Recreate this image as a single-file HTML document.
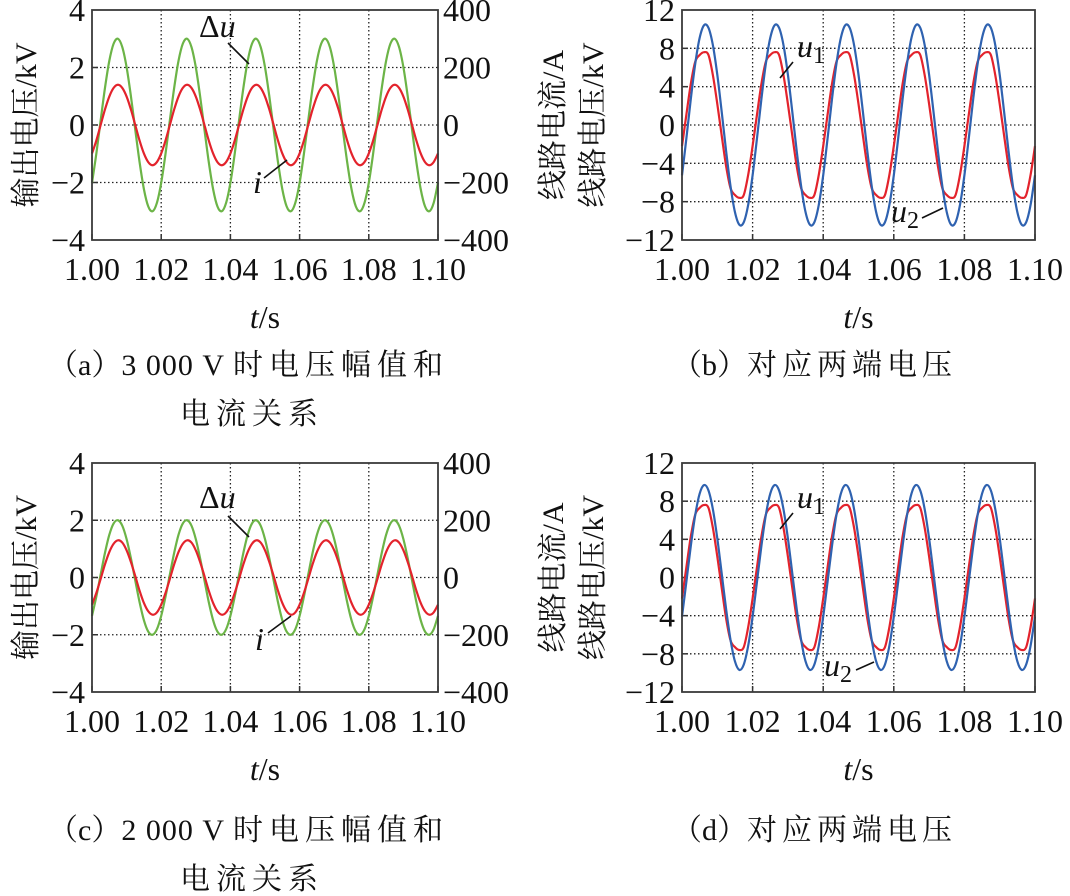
<!DOCTYPE html>
<html><head><meta charset="utf-8"><style>
html,body{margin:0;padding:0;background:#fff}
svg{display:block}
svg text{font-family:"Liberation Serif","Times New Roman","Noto Serif CJK SC",serif;fill:#111}
svg text.cjk{font-family:"Liberation Serif","Noto Serif CJK SC","Noto Sans CJK SC",serif}
</style></head><body>
<svg id="fig" width="1070" height="896" viewBox="0 0 1070 896" xmlns="http://www.w3.org/2000/svg"></svg>
<script>
const xTicks = ["1.00","1.02","1.04","1.06","1.08","1.10"];
const tStart = 1.00, tStep = 0.00125;
const aLeftTicks = [4,2,0,-2,-4];
const aRightTicks = [400,200,0,-200,-400];
const bTicks = [12,8,4,0,-4,-8,-12];

const aDeltaU = [-2.01,-1.0,0.16,1.29,2.23,2.83,3.0,2.71,2.01,1.0,-0.16,-1.29,-2.23,-2.83,-3.0,-2.71,
-2.01,-1.0,0.16,1.29,2.23,2.83,3.0,2.71,2.01,1.0,-0.16,-1.29,-2.23,-2.83,-3.0,-2.71,
-2.01,-1.0,0.16,1.29,2.23,2.83,3.0,2.71,2.01,1.0,-0.16,-1.29,-2.23,-2.83,-3.0,-2.71,
-2.01,-1.0,0.16,1.29,2.23,2.83,3.0,2.71,2.01,1.0,-0.16,-1.29,-2.23,-2.83,-3.0,-2.71,
-2.01,-1.0,0.16,1.29,2.23,2.83,3.0,2.71,2.01,1.0,-0.16,-1.29,-2.23,-2.83,-3.0,-2.71,-2.01];
const aCurrent = [-99,-54,0,54,99,129,140,129,99,54,0,-54,-99,-129,-140,-129,
-99,-54,0,54,99,129,140,129,99,54,0,-54,-99,-129,-140,-129,
-99,-54,0,54,99,129,140,129,99,54,0,-54,-99,-129,-140,-129,
-99,-54,0,54,99,129,140,129,99,54,0,-54,-99,-129,-140,-129,
-99,-54,0,54,99,129,140,129,99,54,0,-54,-99,-129,-140,-129,-99];
const bU1 = [-2.2,1.1,4.3,6.6,7.3,7.6,7.3,5.2,2.2,-1.1,-4.3,-6.6,-7.3,-7.6,-7.3,-5.2,
-2.2,1.1,4.3,6.6,7.3,7.6,7.3,5.2,2.2,-1.1,-4.3,-6.6,-7.3,-7.6,-7.3,-5.2,
-2.2,1.1,4.3,6.6,7.3,7.6,7.3,5.2,2.2,-1.1,-4.3,-6.6,-7.3,-7.6,-7.3,-5.2,
-2.2,1.1,4.3,6.6,7.3,7.6,7.3,5.2,2.2,-1.1,-4.3,-6.6,-7.3,-7.6,-7.3,-5.2,
-2.2,1.1,4.3,6.6,7.3,7.6,7.3,5.2,2.2,-1.1,-4.3,-6.6,-7.3,-7.6,-7.3,-5.2,-2.2];
const bU2 = [-5.25,-1.37,2.72,6.39,9.09,10.41,10.14,8.33,5.25,1.37,-2.72,-6.39,-9.09,-10.41,-10.14,-8.33,
-5.25,-1.37,2.72,6.39,9.09,10.41,10.14,8.33,5.25,1.37,-2.72,-6.39,-9.09,-10.41,-10.14,-8.33,
-5.25,-1.37,2.72,6.39,9.09,10.41,10.14,8.33,5.25,1.37,-2.72,-6.39,-9.09,-10.41,-10.14,-8.33,
-5.25,-1.37,2.72,6.39,9.09,10.41,10.14,8.33,5.25,1.37,-2.72,-6.39,-9.09,-10.41,-10.14,-8.33,
-5.25,-1.37,2.72,6.39,9.09,10.41,10.14,8.33,5.25,1.37,-2.72,-6.39,-9.09,-10.41,-10.14,-8.33,-5.25];
const cDeltaU = [-1.34,-0.67,0.10,0.86,1.49,1.89,2.0,1.81,1.34,0.67,-0.10,-0.86,-1.49,-1.89,-2.0,-1.81,
-1.34,-0.67,0.10,0.86,1.49,1.89,2.0,1.81,1.34,0.67,-0.10,-0.86,-1.49,-1.89,-2.0,-1.81,
-1.34,-0.67,0.10,0.86,1.49,1.89,2.0,1.81,1.34,0.67,-0.10,-0.86,-1.49,-1.89,-2.0,-1.81,
-1.34,-0.67,0.10,0.86,1.49,1.89,2.0,1.81,1.34,0.67,-0.10,-0.86,-1.49,-1.89,-2.0,-1.81,
-1.34,-0.67,0.10,0.86,1.49,1.89,2.0,1.81,1.34,0.67,-0.10,-0.86,-1.49,-1.89,-2.0,-1.81,-1.34];
const cCurrent = [-95,-54,-5,46,89,118,130,122,95,54,5,-46,-89,-118,-130,-122,
-95,-54,-5,46,89,118,130,122,95,54,5,-46,-89,-118,-130,-122,
-95,-54,-5,46,89,118,130,122,95,54,5,-46,-89,-118,-130,-122,
-95,-54,-5,46,89,118,130,122,95,54,5,-46,-89,-118,-130,-122,
-95,-54,-5,46,89,118,130,122,95,54,5,-46,-89,-118,-130,-122,-95];
const dU1 = [-2.2,1.1,4.3,6.6,7.3,7.6,7.3,5.2,2.2,-1.1,-4.3,-6.6,-7.3,-7.6,-7.3,-5.2,
-2.2,1.1,4.3,6.6,7.3,7.6,7.3,5.2,2.2,-1.1,-4.3,-6.6,-7.3,-7.6,-7.3,-5.2,
-2.2,1.1,4.3,6.6,7.3,7.6,7.3,5.2,2.2,-1.1,-4.3,-6.6,-7.3,-7.6,-7.3,-5.2,
-2.2,1.1,4.3,6.6,7.3,7.6,7.3,5.2,2.2,-1.1,-4.3,-6.6,-7.3,-7.6,-7.3,-5.2,
-2.2,1.1,4.3,6.6,7.3,7.6,7.3,5.2,2.2,-1.1,-4.3,-6.6,-7.3,-7.6,-7.3,-5.2,-2.2];
const dU2 = [-4.10,-0.42,3.32,6.55,8.79,9.69,9.12,7.15,4.10,0.42,-3.32,-6.55,-8.79,-9.69,-9.12,-7.15,
-4.10,-0.42,3.32,6.55,8.79,9.69,9.12,7.15,4.10,0.42,-3.32,-6.55,-8.79,-9.69,-9.12,-7.15,
-4.10,-0.42,3.32,6.55,8.79,9.69,9.12,7.15,4.10,0.42,-3.32,-6.55,-8.79,-9.69,-9.12,-7.15,
-4.10,-0.42,3.32,6.55,8.79,9.69,9.12,7.15,4.10,0.42,-3.32,-6.55,-8.79,-9.69,-9.12,-7.15,
-4.10,-0.42,3.32,6.55,8.79,9.69,9.12,7.15,4.10,0.42,-3.32,-6.55,-8.79,-9.69,-9.12,-7.15,-4.10];

const NS = "http://www.w3.org/2000/svg";
const SERIF = '"Liberation Serif", "Times New Roman", serif';
const CJK = '"Liberation Serif", "Noto Serif CJK SC", serif';
const CJKONLY = '"Noto Serif CJK SC", "Noto Sans CJK SC", serif';
const svg = document.getElementById('fig');
function mk(tag, attrs, parent, txt){
  const e = document.createElementNS(NS, tag);
  for (const k in attrs) e.setAttribute(k, attrs[k]);
  if (txt !== undefined) e.textContent = txt;
  (parent || svg).appendChild(e);
  return e;
}
function fmt(v){ return String(v).replace('-', '\u2212'); }

function smoothPath(pts){
  let d = 'M' + pts[0][0].toFixed(2) + ',' + pts[0][1].toFixed(2);
  for (let i = 0; i < pts.length - 1; i++){
    const p0 = pts[Math.max(0,i-1)], p1 = pts[i], p2 = pts[i+1], p3 = pts[Math.min(pts.length-1,i+2)];
    const c1x = p1[0] + (p2[0]-p0[0])/6, c1y = p1[1] + (p2[1]-p0[1])/6;
    const c2x = p2[0] - (p3[0]-p1[0])/6, c2y = p2[1] - (p3[1]-p1[1])/6;
    d += ' C' + c1x.toFixed(2) + ',' + c1y.toFixed(2) + ' ' + c2x.toFixed(2) + ',' + c2y.toFixed(2) + ' ' + p2[0].toFixed(2) + ',' + p2[1].toFixed(2);
  }
  return d;
}

function panel(cfg){
  const g = mk('g', {});
  
  
  const {x0,x1,y0,y1} = cfg;
  const tMin = 1.00, tMax = 1.10;
  const xs = t => x0 + (t - tMin) / (tMax - tMin) * (x1 - x0);
  const ys = v => y1 - (v - cfg.yMin) / (cfg.yMax - cfg.yMin) * (y1 - y0);
  const ysR = cfg.rMin !== undefined ? (v => y1 - (v - cfg.rMin) / (cfg.rMax - cfg.rMin) * (y1 - y0)) : null;

  xTicks.forEach((lab, i) => {
    const x = xs(parseFloat(lab));
    if (i > 0 && i < xTicks.length - 1){
      const l = mk('line', {x1:x, y1:y0, x2:x, y2:y1, stroke:'#222', 'stroke-width':1.3, 'stroke-dasharray':'1.5,2.5'}, g);
      
      
    }
    const tk = mk('line', {x1:x, y1:y1, x2:x, y2:y1-6, stroke:'#333', 'stroke-width':1.5}, g);
    
    
    const tl = mk('text', {x:x, y:y1+40, 'font-size':32, 'text-anchor':'middle', 'font-family':SERIF}, g, lab);
    
    
  });
  cfg.leftTicks.forEach((v, i) => {
    const y = ys(v);
    if (i > 0 && i < cfg.leftTicks.length - 1){
      const l = mk('line', {x1:x0, y1:y, x2:x1, y2:y, stroke:'#222', 'stroke-width':1.3, 'stroke-dasharray':'1.5,2.5'}, g);
      
      
      const tk = mk('line', {x1:x0, y1:y, x2:x0+6, y2:y, stroke:'#333', 'stroke-width':1.5}, g);
      
      
    }
    const tl = mk('text', {x:x0-7, y:y+11, 'font-size':32, 'text-anchor':'end', 'font-family':SERIF}, g, fmt(v));
    
    
  });
  if (cfg.rightTicks){
    cfg.rightTicks.forEach(v => {
      const tl = mk('text', {x:x1+5, y:ysR(v)+11, 'font-size':32, 'text-anchor':'start', 'font-family':SERIF}, g, fmt(v));
      
      
    });
  }
  cfg.series.forEach(s => {
    const scale = s.right ? ysR : ys;
    const pts = s.data.map((v, i) => [xs(tStart + i * tStep), scale(v)]);
    const p = mk('path', {d: smoothPath(pts), fill:'none', stroke:s.color, 'stroke-width':2.2, 'stroke-linejoin':'round'}, g);
    
    
  });
  const fr = mk('rect', {x:x0, y:y0, width:x1-x0, height:y1-y0, fill:'none', stroke:'#3a3a3a', 'stroke-width':1.8}, g);
  
  
  cfg.ylabels.forEach(yl => {
    const cy = yl.cy !== undefined ? yl.cy : (y0+y1)/2;
    const t = mk('text', {x:yl.x, y:cy, 'font-size':30, 'text-anchor':'middle', 'font-family':CJK, class:'cjk', transform:'rotate(-90 '+yl.x+' '+cy+')'}, g, yl.text);
    
    
  });
  const xt = mk('text', {x:(x0+x1)/2, y:y1+88, 'font-size':32, 'text-anchor':'middle', 'font-family':SERIF}, g);
  
  
  mk('tspan', {'font-style':'italic'}, xt, 't');
  mk('tspan', {}, xt, '/s');
  cfg.notes.forEach(n => {
    const l = mk('line', {x1:n.lx1, y1:n.ly1, x2:n.lx2, y2:n.ly2, stroke:'#111', 'stroke-width':1.6}, g);
    
    
    const t = mk('text', {x:n.x, y:n.y, 'font-size':32, 'font-family':SERIF}, g);
    
    
    if (n.pre) mk('tspan', {}, t, n.pre);
    mk('tspan', {'font-style':'italic'}, t, n.main);
    if (n.sub) mk('tspan', {'font-size':24, dy:6}, t, n.sub);
  });
  cfg.captions.forEach(c => {
    const t = mk('text', {x:c.x, y:c.y, 'font-size':30, 'font-family':CJK, class:'cjk'}, g);
    
    
    c.parts.forEach(p => {
      const attrs = {'letter-spacing':p[1]};
      if (p[2]) attrs['font-family'] = CJKONLY;
      mk('tspan', attrs, t, p[0]);
    });
  });
}

panel({name:'panel-a', x0:92, x1:438, y0:10, y1:240, yMin:-4, yMax:4, rMin:-400, rMax:400,
  leftTicks:aLeftTicks, rightTicks:aRightTicks,
  ylabels:[{x:36, text:'输出电压/kV'}],
  series:[{name:'delta-u-line', data:aDeltaU, color:'#6cb447'},{name:'current-line', data:aCurrent, color:'#e3232c', right:true}],
  notes:[{x:199, y:37, pre:'Δ', main:'u', lx1:228, ly1:43, lx2:249, ly2:64},
         {x:253, y:193, main:'i', lx1:264, ly1:178, lx2:287, ly2:160}],
  captions:[{x:48, y:375, parts:[['（',0,1],['a',0],['）',0,1],['3 000 V ',1],['时电压幅值和',6]]},{x:180, y:424, parts:[['电流关系',6]]}]});

panel({name:'panel-b', x0:682, x1:1035, y0:10, y1:240, yMin:-12, yMax:12,
  leftTicks:bTicks,
  ylabels:[{x:563, text:'线路电流/A'},{x:603, text:'线路电压/kV'}],
  series:[{name:'u1-line', data:bU1, color:'#e3232c'},{name:'u2-line', data:bU2, color:'#2f62b0'}],
  notes:[{x:797, y:57, main:'u', sub:'1', lx1:793, ly1:62, lx2:780, ly2:78},
         {x:891, y:222, main:'u', sub:'2', lx1:922, ly1:218, lx2:943, ly2:208}],
  captions:[{x:672, y:375, parts:[['（',0,1],['b',0],['）',0,1],['对应两端电压',5]]}]});

panel({name:'panel-c', x0:92, x1:438, y0:463, y1:692, yMin:-4, yMax:4, rMin:-400, rMax:400,
  leftTicks:aLeftTicks, rightTicks:aRightTicks,
  ylabels:[{x:36, text:'输出电压/kV'}],
  series:[{name:'delta-u-line', data:cDeltaU, color:'#6cb447'},{name:'current-line', data:cCurrent, color:'#e3232c', right:true}],
  notes:[{x:199, y:508, pre:'Δ', main:'u', lx1:228, ly1:516, lx2:249, ly2:537},
         {x:255, y:650, main:'i', lx1:268, ly1:633, lx2:291, ly2:616}],
  captions:[{x:48, y:840, parts:[['（',0,1],['c',0],['）',0,1],['2 000 V ',1],['时电压幅值和',6]]},{x:180, y:889, parts:[['电流关系',6]]}]});

panel({name:'panel-d', x0:682, x1:1035, y0:463, y1:692, yMin:-12, yMax:12,
  leftTicks:bTicks,
  ylabels:[{x:563, text:'线路电流/A'},{x:603, text:'线路电压/kV'}],
  series:[{name:'u1-line', data:dU1, color:'#e3232c'},{name:'u2-line', data:dU2, color:'#2f62b0'}],
  notes:[{x:797, y:508, main:'u', sub:'1', lx1:793, ly1:513, lx2:780, ly2:529},
         {x:824, y:676, main:'u', sub:'2', lx1:856, ly1:670, lx2:874, ly2:662}],
  captions:[{x:672, y:840, parts:[['（',0,1],['d',0],['）',0,1],['对应两端电压',5]]}]});
</script>
</body></html>
